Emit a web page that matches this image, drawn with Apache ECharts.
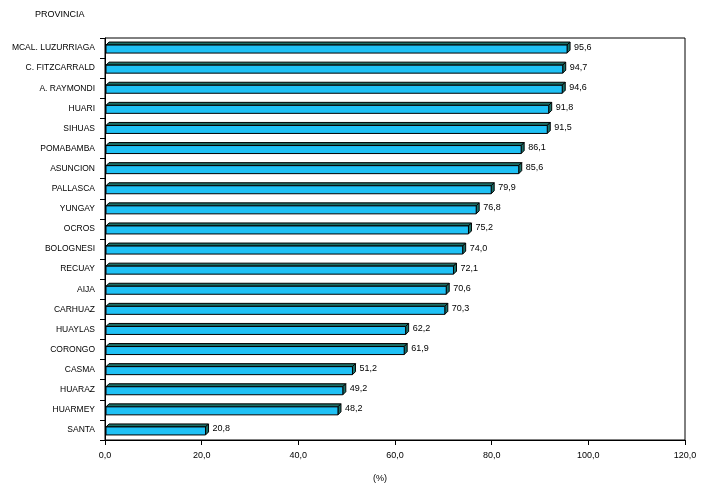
<!DOCTYPE html>
<html>
<head>
<meta charset="utf-8">
<script src="https://cdn.jsdelivr.net/npm/echarts@6/dist/echarts.min.js"></script>
<style>html,body{margin:0;padding:0;background:#fff}#c{width:716px;height:494px}</style>
</head>
<body>
<div id="c"></div>
<script>
const categories = ["MCAL. LUZURRIAGA","C. FITZCARRALD","A. RAYMONDI","HUARI","SIHUAS","POMABAMBA","ASUNCION","PALLASCA","YUNGAY","OCROS","BOLOGNESI","RECUAY","AIJA","CARHUAZ","HUAYLAS","CORONGO","CASMA","HUARAZ","HUARMEY","SANTA"];
const values = [95.6,94.7,94.6,91.8,91.5,86.1,85.6,79.9,76.8,75.2,74.0,72.1,70.6,70.3,62.2,61.9,51.2,49.2,48.2,20.8];
const xTicks = [0,20,40,60,80,100,120];

const chart = echarts.init(document.getElementById('c'));
const FRONT = '#1fc1f5', DARK = '#1b6e66', EDGE = '#000';
const FONT = 'Liberation Sans, Arial, sans-serif';
function fmt(v){ return v.toFixed(1).replace('.', ','); }

chart.setOption({
  animation: false,
  backgroundColor: '#fff',
  textStyle: { fontFamily: FONT },
  title: [
    { text: 'PROVINCIA', left: 35, top: 10, padding: 0, textStyle: { fontSize: 9, fontWeight: 'normal', color: '#000' } },
    { text: '(%)', left: 373, top: 474, padding: 0, textStyle: { fontSize: 9, fontWeight: 'normal', color: '#000' } }
  ],
  grid: { left: 105, right: 31, top: 38, bottom: 54, show: true, borderColor: '#000', borderWidth: 1, backgroundColor: 'transparent' },
  xAxis: {
    type: 'value', min: 0, max: 120, interval: 20,
    axisLine: { show: true, lineStyle: { color: '#000', width: 1 } },
    axisTick: { show: true, length: 5, lineStyle: { color: '#000' } },
    splitLine: { show: false },
    axisLabel: { color: '#000', fontSize: 9, margin: 11, formatter: v => fmt(v) }
  },
  yAxis: {
    type: 'category', data: categories, inverse: true,
    axisLine: { show: true, lineStyle: { color: '#000', width: 1 } },
    axisTick: { show: true, length: 5, lineStyle: { color: '#000' } },
    axisLabel: { color: '#000', fontSize: 8.5, margin: 10 }
  },
  series: [{
    type: 'custom',
    data: values.map((v, i) => [v, i]),
    encode: { x: 0, y: 1 },
    renderItem: function (params, api) {
      const v = api.value(0), idx = api.value(1);
      const p0 = api.coord([0, idx]);
      const p1 = api.coord([v, idx]);
      const cy = p0[1];
      const h = 8, d = 3;
      const top = cy - h / 2 + 1, bot = cy + h / 2 + 1;
      const x0 = p0[0] + 1, x1 = p1[0];
      return {
        type: 'group',
        children: [
          { type: 'polygon', shape: { points: [[x0, top], [x0 + d, top - d], [x1 + d, top - d], [x1, top]] },
            style: { fill: DARK, stroke: EDGE, lineWidth: 1 } },
          { type: 'polygon', shape: { points: [[x1, top], [x1 + d, top - d], [x1 + d, bot - d], [x1, bot]] },
            style: { fill: DARK, stroke: EDGE, lineWidth: 1 } },
          { type: 'rect', shape: { x: x0, y: top, width: x1 - x0, height: h },
            style: { fill: FRONT, stroke: EDGE, lineWidth: 1 } },
          { type: 'text', x: x1 + d + 4, y: cy - 1,
            style: { text: fmt(v), fill: '#000', fontSize: 9, fontFamily: FONT, verticalAlign: 'middle', align: 'left' } }
        ]
      };
    }
  }]
});
</script>
</body>
</html>
